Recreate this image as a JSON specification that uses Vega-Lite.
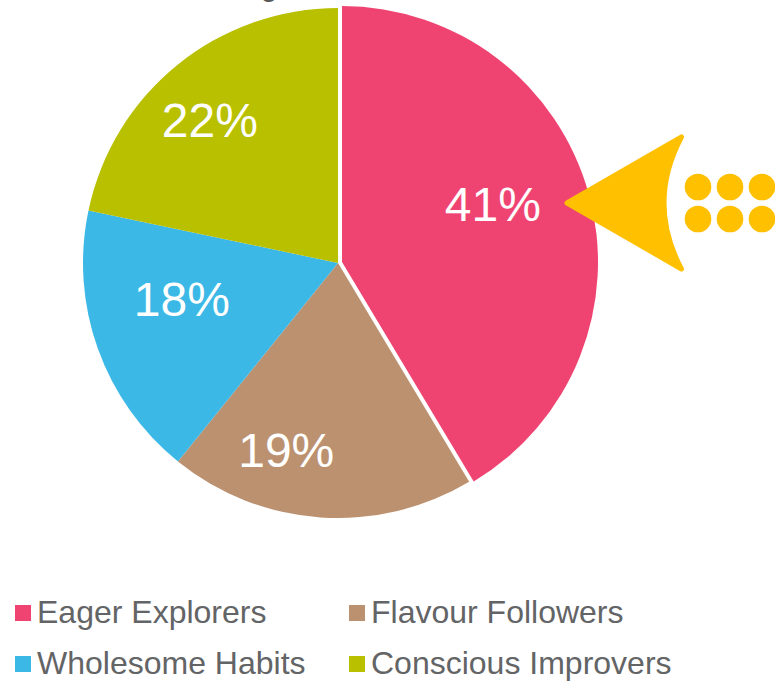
{
  "$schema": "https://vega.github.io/schema/vega-lite/v6.json",
  "width": 676,
  "height": 526,
  "autosize": "none",
  "padding": {"left": 0, "top": 0, "right": 99, "bottom": 155},
  "background": "white",
  "config": {"view": {"stroke": null}, "font": "Liberation Sans"},
  "data": {
    "values": [
      {"segment": "Eager Explorers", "share": 41.4, "ord": 1},
      {"segment": "Flavour Followers", "share": 19.4, "ord": 2},
      {"segment": "Wholesome Habits", "share": 17.5, "ord": 3},
      {"segment": "Conscious Improvers", "share": 21.7, "ord": 4}
    ]
  },
  "transform": [
    {"stack": "share", "groupby": [], "sort": [{"field": "ord", "order": "ascending"}], "as": ["a0", "a1"]},
    {"calculate": "(datum.a0 + datum.a1) / 2", "as": "mid"},
    {"calculate": "round(datum.share) + '%'", "as": "pct"}
  ],
  "layer": [
    {
      "transform": [{"filter": "datum.ord != 1"}],
      "mark": {"type": "arc", "radius": 255},
      "encoding": {
        "theta": {"field": "a0", "type": "quantitative", "scale": {"domain": [0, 100]}},
        "theta2": {"field": "a1"},
        "color": {
          "field": "segment",
          "type": "nominal",
          "scale": {
            "domain": ["Eager Explorers", "Flavour Followers", "Wholesome Habits", "Conscious Improvers"],
            "range": ["#EF4472", "#BC9170", "#3CB8E6", "#B8C000"]
          },
          "legend": {
            "title": null,
            "orient": "none",
            "legendX": 7,
            "legendY": 597,
            "direction": "horizontal",
            "columns": 2,
            "columnPadding": 35,
            "rowPadding": 19,
            "symbolType": "square",
            "symbolSize": 256,
            "symbolStrokeWidth": 0,
            "labelOffset": -2,
            "labelFontSize": 32,
            "labelColor": "#636466",
            "labelFont": "Liberation Sans",
            "labelLimit": 400
          }
        }
      }
    },
    {
      "transform": [{"filter": "datum.ord == 1"}],
      "mark": {"type": "arc", "radius": 256, "xOffset": 4, "yOffset": -1},
      "encoding": {
        "theta": {"field": "a0", "type": "quantitative", "scale": {"domain": [0, 100]}},
        "theta2": {"field": "a1"},
        "color": {"field": "segment", "type": "nominal"}
      }
    },
    {
      "transform": [{"filter": "datum.ord == 1"}],
      "mark": {"type": "text", "radius": 170, "dx": -9, "dy": -11, "fontSize": 48, "color": "white"},
      "encoding": {
        "theta": {"field": "mid", "type": "quantitative", "stack": false, "scale": {"domain": [0, 100]}},
        "text": {"field": "pct"}
      }
    },
    {
      "transform": [{"filter": "datum.ord == 2"}],
      "mark": {"type": "text", "radius": 170, "dx": -40, "dy": 20, "fontSize": 48, "color": "white"},
      "encoding": {
        "theta": {"field": "mid", "type": "quantitative", "stack": false, "scale": {"domain": [0, 100]}},
        "text": {"field": "pct"}
      }
    },
    {
      "transform": [{"filter": "datum.ord == 3"}],
      "mark": {"type": "text", "radius": 170, "dx": 4, "dy": -18, "fontSize": 48, "color": "white"},
      "encoding": {
        "theta": {"field": "mid", "type": "quantitative", "stack": false, "scale": {"domain": [0, 100]}},
        "text": {"field": "pct"}
      }
    },
    {
      "transform": [{"filter": "datum.ord == 4"}],
      "mark": {"type": "text", "radius": 170, "dx": -21, "dy": -8, "fontSize": 48, "color": "white"},
      "encoding": {
        "theta": {"field": "mid", "type": "quantitative", "stack": false, "scale": {"domain": [0, 100]}},
        "text": {"field": "pct"}
      }
    },
    {
      "data": {"values": [{"icon": "pointer"}]},
      "mark": {
        "type": "point",
        "shape": "M -0.829 0 L 0.807 -0.943 Q 0.307 0 0.807 0.943 Z",
        "size": 19600,
        "filled": true,
        "fill": "#FFC000",
        "fillOpacity": 1,
        "stroke": "#FFC000",
        "strokeWidth": 5,
        "strokeOpacity": 1,
        "strokeJoin": "round",
        "xOffset": 287,
        "yOffset": -60
      },
      "encoding": {}
    },
    {
      "data": {
        "values": [
          {"col": 1, "row": 1}, {"col": 2, "row": 1}, {"col": 3, "row": 1},
          {"col": 1, "row": 2}, {"col": 2, "row": 2}, {"col": 3, "row": 2}
        ]
      },
      "mark": {"type": "point", "shape": "circle", "size": 708, "filled": true, "fill": "#FFC000", "fillOpacity": 1, "strokeWidth": 0},
      "encoding": {
        "x": {"field": "col", "type": "quantitative", "axis": null, "scale": {"domain": [1, 3], "range": [698, 762], "nice": false, "zero": false}},
        "y": {"field": "row", "type": "quantitative", "axis": null, "scale": {"domain": [1, 2], "range": [187, 219], "nice": false, "zero": false}}
      }
    },
    {
      "data": {"values": [{"heading": "g"}]},
      "mark": {"type": "text", "fontSize": 30, "color": "#595959", "baseline": "alphabetic", "align": "center", "xOffset": -69, "yOffset": -267},
      "encoding": {"text": {"field": "heading"}}
    }
  ]
}
